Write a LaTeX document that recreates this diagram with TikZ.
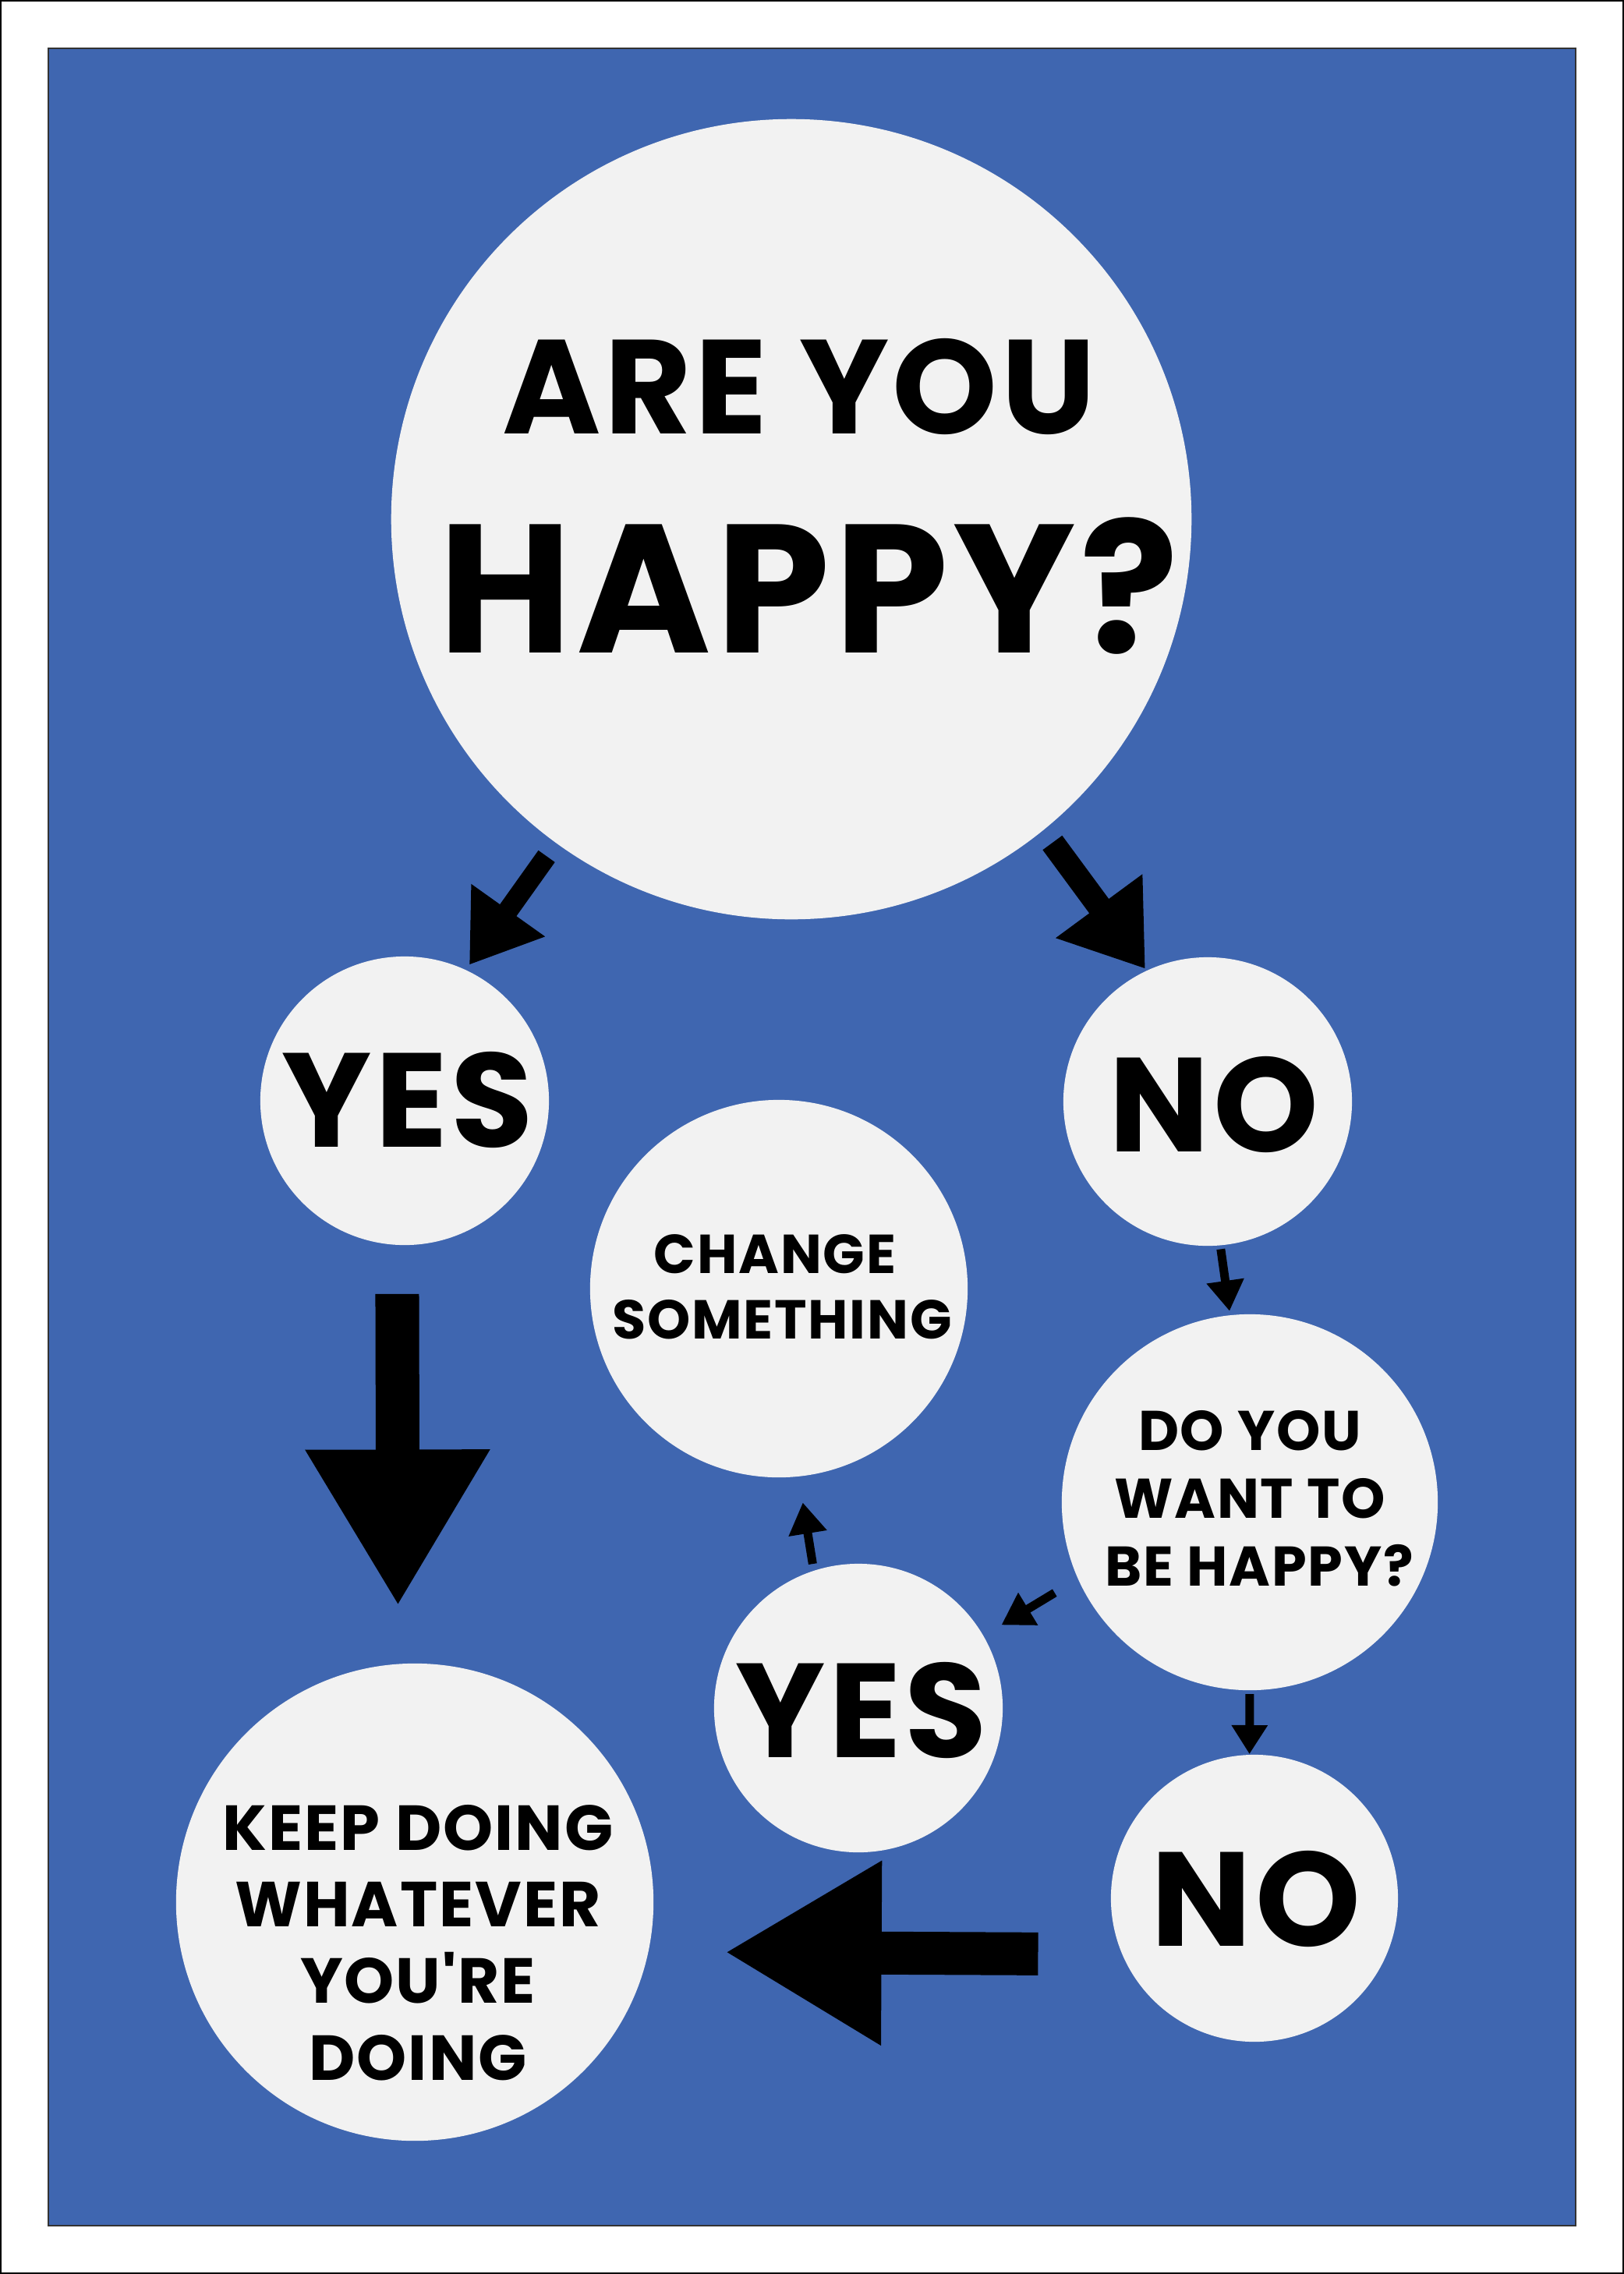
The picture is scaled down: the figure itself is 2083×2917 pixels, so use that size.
\documentclass[tikz,border=0pt]{standalone}
\usepackage{fontspec}
\setmainfont{Poppins}[Ligatures=TeXOff]
\usetikzlibrary{arrows.meta, calc}

\definecolor{posterblue}{RGB}{63,102,176}
\definecolor{bubblegray}{RGB}{242,242,242}

\tikzset{
  bubble/.style={circle, fill=bubblegray, inner sep=0pt, outer sep=0pt, minimum size=#1},
  words/.style={inner sep=0pt, anchor=base, text=black,
    font=\bfseries\fontsize{#1}{#1}\selectfont\addfontfeature{LetterSpace=2.5}},
  flow/.style n args={3}{line width=#1, -{Triangle[width=#2, length=#3]}}
}

\begin{document}
\begin{tikzpicture}[x=0.01cm, y=-0.01cm]
  \useasboundingbox (0,0) rectangle (2083,2917);
  % page and poster area
  \draw[line width=0.02cm, fill=white] (1,1) rectangle (2082,2916);
  \draw[line width=0.02cm, draw=black!80, fill=posterblue] (62,62) rectangle (2021,2855);

  % bubbles
  \node[bubble=10.26cm] (happy)  at (1015,666)  {};
  \node[bubble=3.70cm]  (yesA)   at (519,1412)  {};
  \node[bubble=3.70cm]  (noA)    at (1549,1413) {};
  \node[bubble=4.84cm]  (change) at (999,1653)  {};
  \node[bubble=4.82cm]  (want)   at (1603,1927) {};
  \node[bubble=3.70cm]  (yesB)   at (1101,2191) {};
  \node[bubble=3.68cm]  (noB)    at (1609,2435) {};
  \node[bubble=6.12cm]  (keep)   at (532,2440)  {};

  % question
  \node[words=48.8pt] (happy-1) at ($(happy)+(10,-110)$) {ARE YOU};
  \node[words=66.7pt] (happy-2) at ($(happy)+(22,171)$) {HAPPY?};

  % answers
  \node[words=48.8pt] (yesA-t) at ($(yesA)+(4,59)$)  {YES};
  \node[words=48.8pt] (noA-t)  at ($(noA)+(8,64)$)   {NO};
  \node[words=48.8pt] (yesB-t) at ($(yesB)+(4,63)$)  {YES};
  \node[words=48.8pt] (noB-t)  at ($(noB)+(2,61)$)   {NO};

  \foreach \ln/\dx/\dy [count=\i] in {CHANGE/-5/-20, SOMETHING/4/64}
    \node[words=20pt] (change-\i) at ($(change)+(\dx,\dy)$) {\ln};
  \foreach \ln/\dx/\dy [count=\i] in {DO YOU/0/-67, WANT TO/0/20, BE HAPPY?/12/107}
    \node[words=20.4pt] (want-\i) at ($(want)+(\dx,\dy)$) {\ln};
  \foreach \ln/\dy [count=\i] in {KEEP DOING/-67, WHATEVER/31, YOU'RE/129, DOING/228}
    \node[words=23.2pt] (keep-\i) at ($(keep)+(4,\dy)$) {\ln};

  % arrows
  \draw[flow={0.26cm}{1.10cm}{0.86cm}, shorten <=0.21cm, shorten >=0.08cm] (happy.-126.9) -- (yesA.65.7);
  \draw[flow={0.31cm}{1.31cm}{1.00cm}, shorten <=0.20cm, shorten >=0.03cm] (happy.-51.8) -- (noA.115.5);
  \draw[flow={0.11cm}{0.46cm}{0.39cm}, shorten <=0.05cm, shorten >=0.055cm] (noA.-85.8) -- (want.96.3);
  \draw[flow={0.11cm}{0.46cm}{0.40cm}, shorten <=0.35cm, shorten >=0.27cm] (want.-156.5) -- (yesB.30.9);
  \draw[flow={0.11cm}{0.44cm}{0.37cm}, shorten <=0.05cm, shorten >=0.01cm] (want.-90.7) -- (noB.92.8);
  \draw[flow={0.11cm}{0.47cm}{0.40cm}, shorten <=0.09cm, shorten >=0.34cm] (yesB.108.3) -- (change.-84.6);
  \draw[flow={0.56cm}{2.22cm}{2.01cm}, shorten <=0.63cm, shorten >=0.74cm] (yesA.-93.7) -- (keep.94.7);
  \draw[flow={0.55cm}{2.22cm}{2.01cm}, shorten <=1.08cm, shorten >=0.98cm] (noB.-157) -- (keep.-12.65);
\end{tikzpicture}
\end{document}
